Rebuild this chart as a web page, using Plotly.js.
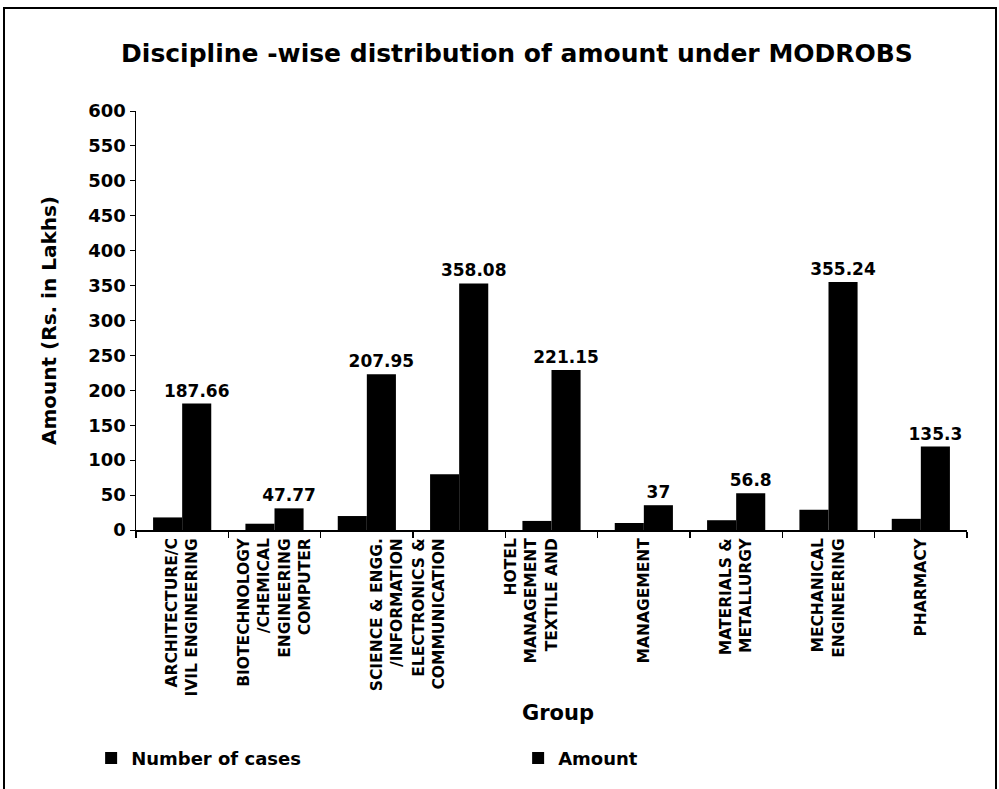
<!DOCTYPE html>
<html>
<head>
<meta charset="utf-8">
<script src="https://cdn.plot.ly/plotly-3.0.1.min.js"></script>
<style>
  html, body { margin: 0; padding: 0; background: #fff; }
  #chart { width: 999px; height: 789px; position: absolute; left: 0; top: 0; }
  #frame { position: absolute; left: 3px; top: 7px; width: 994px; height: 790px;
           border: 2px solid #000; box-sizing: border-box; pointer-events: none; }
</style>
</head>
<body>
<div id="chart"></div>
<div id="frame"></div>
<script>
// ---- data ----
const categories = [
  "ARCHITECTURE/CIVIL ENGINEERING",
  "BIOTECHNOLOGY/CHEMICAL ENGINEERING",
  "COMPUTER SCIENCE & ENGG./INFORMATION",
  "ELECTRONICS & COMMUNICATION",
  "HOTEL MANAGEMENT/TEXTILE AND",
  "MANAGEMENT",
  "MATERIALS & METALLURGY",
  "MECHANICAL ENGINEERING",
  "PHARMACY"
];
const tickLabels = [
  "ARCHITECTURE/C<br>IVIL ENGINEERING",
  "BIOTECHNOLOGY<br>/CHEMICAL<br>ENGINEERING<br>COMPUTER",
  "\u00a0<br>\u00a0<br>SCIENCE &amp; ENGG.<br>/INFORMATION",
  "ELECTRONICS &amp;<br>COMMUNICATION<br>\u00a0<br>\u00a0<br>\u00a0",
  "HOTEL<br>MANAGEMENT<br>TEXTILE AND<br>\u00a0<br>\u00a0",
  "MANAGEMENT",
  "MATERIALS &amp;<br>METALLURGY",
  "MECHANICAL<br>ENGINEERING",
  "PHARMACY"
];
const numberOfCases = [18, 9, 20, 80, 13, 10, 14, 29, 16];
const amount = [181, 31, 223, 353, 229, 35.5, 52.5, 355, 119.5];
const amountLabels = ["187.66", "47.77", "207.95", "358.08", "221.15", "37", "56.8", "355.24", "135.3"];
const yTicks = [0, 50, 100, 150, 200, 250, 300, 350, 400, 450, 500, 550, 600];

const FONT = "DejaVu Sans, Liberation Sans, Arial, sans-serif";

const traces = [
  {
    type: "bar",
    name: "Number of cases",
    x: categories,
    y: numberOfCases,
    marker: { color: "#000000" },
    hoverinfo: "x+y"
  },
  {
    type: "bar",
    name: "Amount",
    x: categories,
    y: amount,
    text: amountLabels,
    textposition: "outside",
    constraintext: "none",
    textfont: { family: FONT, size: 17, color: "#000", weight: "bold" },
    cliponaxis: false,
    marker: { color: "#000000" },
    hoverinfo: "x+y"
  }
];

const layout = {
  width: 999,
  height: 789,
  margin: { l: 136, r: 32, t: 111, b: 256 },
  paper_bgcolor: "#ffffff",
  plot_bgcolor: "#ffffff",
  font: { family: FONT, color: "#000" },
  title: {
    text: "Discipline -wise distribution of amount under MODROBS",
    font: { family: FONT, size: 25, color: "#000", weight: "bold" },
    x: 0.5175, xanchor: "center",
    y: 0.933, yanchor: "middle"
  },
  barmode: "group",
  bargap: 0.37,
  bargroupgap: 0,
  showlegend: true,
  legend: {
    orientation: "h",
    x: -0.054, xanchor: "left",
    y: -0.545, yanchor: "middle",
    font: { family: FONT, size: 18, color: "#000", weight: "bold" },
    entrywidth: 382,
    entrywidthmode: "pixels",
    bgcolor: "rgba(0,0,0,0)"
  },
  xaxis: {
    type: "category",
    tickvals: categories,
    ticktext: tickLabels,
    tickangle: -90,
    tickfont: { family: FONT, size: 15.5, color: "#000", weight: "bold" },
    showline: true, linecolor: "#000", linewidth: 2,
    ticks: "outside", ticklen: 6, tickcolor: "#000", tickwidth: 1.5,
    tickson: "boundaries",
    showgrid: false,
    zeroline: false,
    automargin: false
  },
  yaxis: {
    range: [0, 600],
    tickvals: yTicks,
    tickfont: { family: FONT, size: 18, color: "#000", weight: "bold" },
    showline: true, linecolor: "#000", linewidth: 1.5,
    ticks: "outside", ticklen: 5, tickcolor: "#000",
    showgrid: false,
    zeroline: false,
    automargin: true,
    title: {
      text: "Amount (Rs. in Lakhs)",
      font: { family: FONT, size: 20, color: "#000", weight: "bold" },
      standoff: 26
    }
  },
  annotations: [
    {
      text: "Group",
      xref: "paper", yref: "paper",
      x: 0.508, y: -0.436,
      xanchor: "center", yanchor: "middle",
      showarrow: false,
      font: { family: FONT, size: 21, color: "#000", weight: "bold" }
    }
  ]
};

Plotly.newPlot("chart", traces, layout, { displayModeBar: false, staticPlot: true });
</script>
</body>
</html>
